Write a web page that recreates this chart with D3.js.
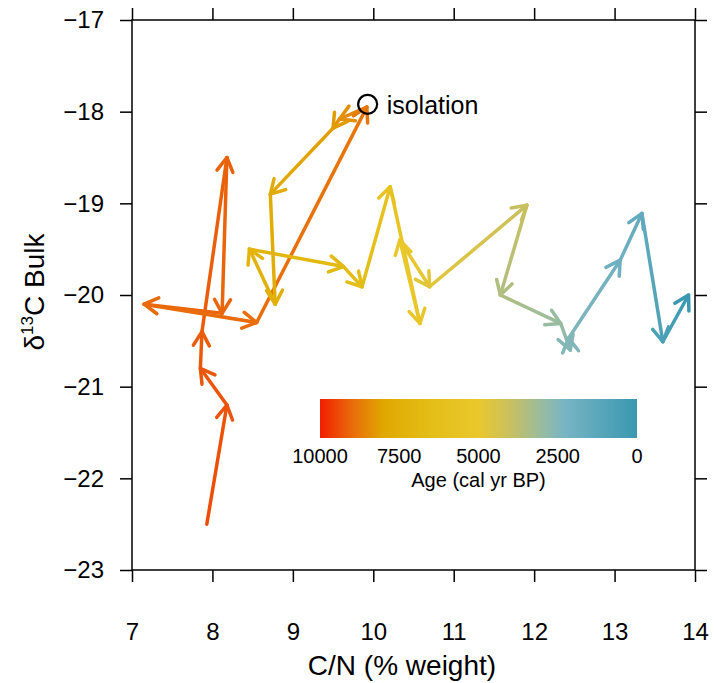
<!DOCTYPE html>
<html><head><meta charset="utf-8">
<script src="https://cdn.jsdelivr.net/npm/d3@7"></script>
<style>body{margin:0;background:#fff} text{font-family:"Liberation Sans",Arial,sans-serif;fill:#000}</style>
</head><body><svg id="c" width="714" height="683"></svg>
<script>
// Data (C/N, d13C bulk, age in cal yr BP), oldest first
const cn   = [7.93, 8.18, 7.85, 7.87, 8.18, 8.12, 7.15, 8.55, 9.92, 9.58, 9.50, 8.72, 8.78, 8.46, 9.63, 9.86, 10.21, 10.58, 10.33, 10.70, 11.91, 11.58, 12.33, 12.45, 12.43, 13.07, 13.34, 13.60, 13.92];
const d13c = [-22.5, -21.2, -20.8, -20.4, -18.5, -20.2, -20.1, -20.3, -17.95, -18.08, -18.18, -18.9, -20.1, -19.5, -19.69, -19.91, -18.82, -20.31, -19.4, -19.91, -19.02, -20.0, -20.31, -20.6, -20.47, -19.62, -19.11, -20.51, -20.0];
const age  = [9400, 9300, 9250, 9200, 9100, 9050, 9000, 8950, 8800, 8400, 8200, 7800, 7500, 7200, 6800, 6500, 5800, 5300, 5100, 4800, 4000, 3500, 3000, 2600, 2500, 2000, 1500, 700, 0];
const xTicks = [7, 8, 9, 10, 11, 12, 13, 14];
const yTicks = [-23, -22, -21, -20, -19, -18, -17];
const colorAges  = [10000, 9000, 8000, 6500, 5000, 4000, 3000, 2300, 0];
const colorStops = ["#f21e00", "#e96a0c", "#e0a800", "#e4be18", "#eac82c", "#c8c060", "#98bca0", "#78b4c4", "#3a98b0"];
const legendTicks = [10000, 7500, 5000, 2500, 0];
const isoPoint = {cn: 9.93, d13c: -17.92, label: "isolation"};

const svg = d3.select("#c");
const x = d3.scaleLinear([7, 14], [132, 695]);
const y = d3.scaleLinear([-23, -17], [570, 20]);
const col = d3.scaleLinear().domain(colorAges).range(colorStops).interpolate(d3.interpolateRgb);
const defs = svg.append("defs");
const fmt = v => (v < 0 ? "\u2212" + Math.abs(v) : String(v));
const FS = 24;

// Axes box and ticks
const g = svg.append("g");
g.append("rect").attr("x", x(7)).attr("y", y(-17)).attr("width", x(14) - x(7)).attr("height", y(-23) - y(-17))
  .attr("fill", "none").attr("stroke", "#000").attr("stroke-width", 1.5);
const tl = 12;
g.append("g").attr("transform", `translate(0,${y(-23)})`)
  .call(d3.axisBottom(x).tickValues(xTicks).tickSize(tl).tickPadding(41).tickFormat(fmt))
  .call(s => { s.select(".domain").remove(); s.selectAll("line").attr("stroke-width", 1.5); s.selectAll("text").attr("font-size", FS).attr("font-family", "Liberation Sans"); });
g.append("g").attr("transform", `translate(0,${y(-17)})`)
  .call(d3.axisTop(x).tickValues(xTicks).tickSize(tl).tickFormat(""))
  .call(s => { s.select(".domain").remove(); s.selectAll("line").attr("stroke-width", 1.5); });
g.append("g").attr("transform", `translate(${x(7)},0)`)
  .call(d3.axisLeft(y).tickValues(yTicks).tickSize(tl).tickPadding(16).tickFormat(fmt))
  .call(s => { s.select(".domain").remove(); s.selectAll("line").attr("stroke-width", 1.5); s.selectAll("text").attr("font-size", FS).attr("font-family", "Liberation Sans"); });
g.append("g").attr("transform", `translate(${x(14)},0)`)
  .call(d3.axisRight(y).tickValues(yTicks).tickSize(tl).tickFormat(""))
  .call(s => { s.select(".domain").remove(); s.selectAll("line").attr("stroke-width", 1.5); });

// Axis titles
svg.append("text").attr("x", 402).attr("y", 675).attr("text-anchor", "middle")
  .attr("font-size", 28).text("C/N (% weight)");
const yt = svg.append("text").attr("transform", `translate(44,292) rotate(-90)`)
  .attr("text-anchor", "middle").attr("font-size", 28);
yt.append("tspan").text("\u03b4");
yt.append("tspan").attr("font-size", 17).attr("dy", -11).text("13");
yt.append("tspan").attr("dy", 11).text("C Bulk");

// Path of arrows
const pts = cn.map((c, i) => ({px: x(c), py: y(d13c[i]), a: age[i]}));
const arrows = svg.append("g");
const headLen = 16, headAng = Math.PI / 6, lw = 3.5;
for (let i = 0; i < pts.length - 1; i++) {
  const p0 = pts[i], p1 = pts[i + 1];
  const gid = "seg" + i;
  const lg = defs.append("linearGradient").attr("id", gid).attr("gradientUnits", "userSpaceOnUse")
    .attr("x1", p0.px).attr("y1", p0.py).attr("x2", p1.px).attr("y2", p1.py);
  lg.append("stop").attr("offset", 0).attr("stop-color", col(p0.a));
  lg.append("stop").attr("offset", 1).attr("stop-color", col(p1.a));
  arrows.append("line").attr("x1", p0.px).attr("y1", p0.py).attr("x2", p1.px).attr("y2", p1.py)
    .attr("stroke", `url(#${gid})`).attr("stroke-width", lw).attr("stroke-linecap", "round");
  const ang = Math.atan2(p1.py - p0.py, p1.px - p0.px);
  const f1 = [p1.px - headLen * Math.cos(ang - headAng), p1.py - headLen * Math.sin(ang - headAng)];
  const f2 = [p1.px - headLen * Math.cos(ang + headAng), p1.py - headLen * Math.sin(ang + headAng)];
  arrows.append("path").attr("d", `M${f1[0]},${f1[1]}L${p1.px},${p1.py}L${f2[0]},${f2[1]}`)
    .attr("fill", "none").attr("stroke", col(p1.a)).attr("stroke-width", lw)
    .attr("stroke-linecap", "round").attr("stroke-linejoin", "round");
}

// Isolation marker
svg.append("circle").attr("cx", x(isoPoint.cn)).attr("cy", y(isoPoint.d13c)).attr("r", 9.5)
  .attr("fill", "none").attr("stroke", "#000").attr("stroke-width", 2.2);
svg.append("text").attr("x", x(isoPoint.cn) + 19).attr("y", y(isoPoint.d13c) + 10)
  .attr("font-size", 25).text(isoPoint.label);

// Colour bar legend
const lx = d3.scaleLinear([10000, 0], [320, 637]);
const lgd = defs.append("linearGradient").attr("id", "legGrad").attr("x1", 0).attr("x2", 1).attr("y1", 0).attr("y2", 0);
colorAges.forEach((a, i) => lgd.append("stop").attr("offset", (10000 - a) / 10000).attr("stop-color", colorStops[i]));
svg.append("rect").attr("x", lx(10000)).attr("y", 399).attr("width", lx(0) - lx(10000)).attr("height", 39)
  .attr("fill", "url(#legGrad)");
svg.selectAll(".lt").data(legendTicks).join("text").attr("class", "lt")
  .attr("x", d => lx(d)).attr("y", 463).attr("text-anchor", "middle").attr("font-size", 20).text(d => d);
svg.append("text").attr("x", lx(5000)).attr("y", 487).attr("text-anchor", "middle").attr("font-size", 20)
  .text("Age (cal yr BP)");
</script></body></html>
